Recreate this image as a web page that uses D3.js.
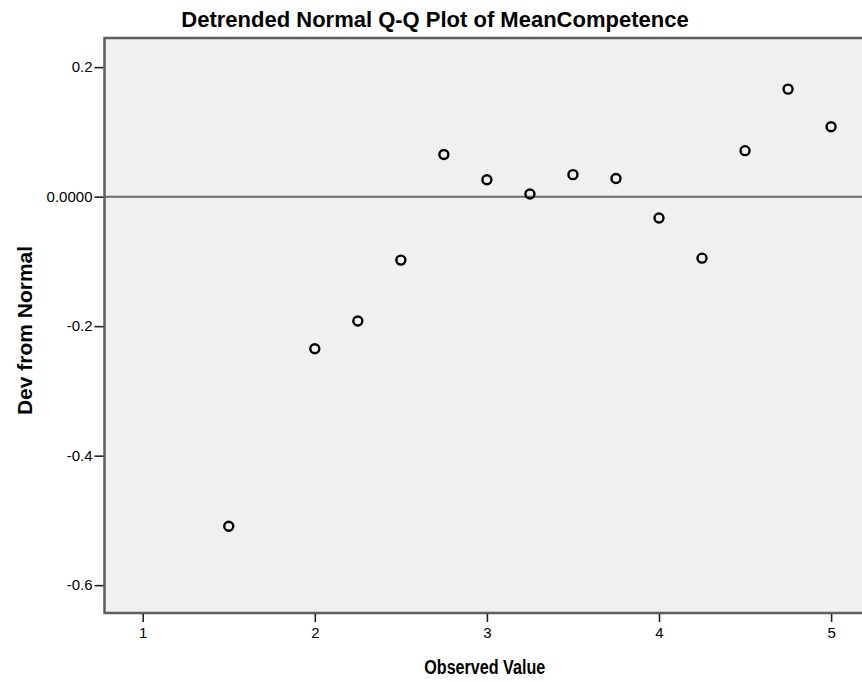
<!DOCTYPE html>
<html>
<head>
<meta charset="utf-8">
<script src="https://cdn.jsdelivr.net/npm/d3@7"></script>
<style>
  body { margin: 0; background: #fff; }
  svg text { font-family: "Liberation Sans", Arial, sans-serif; fill: #000; }
</style>
</head>
<body>
<svg id="chart" width="862" height="682"></svg>
<script>
const observed = [1.5, 2.0, 2.25, 2.5, 2.75, 3.0, 3.25, 3.5, 3.75, 4.0, 4.25, 4.5, 4.75, 5.0];
const deviation = [-0.509, -0.235, -0.192, -0.098, 0.065, 0.026, 0.004, 0.034, 0.028, -0.033, -0.095, 0.071, 0.166, 0.108];
const xTicks = [1, 2, 3, 4, 5];
const yTicks = [0.2, 0, -0.2, -0.4, -0.6];
const yTickLabels = ["0.2", "0.0000", "-0.2", "-0.4", "-0.6"];

const plot = {left: 104.5, top: 38, right: 865, bottom: 613};

const x = d3.scaleLinear([0.778, 5.197], [plot.left, plot.right]);
const y = d3.scaleLinear([-0.643, 0.245], [plot.bottom, plot.top]);

const svg = d3.select("#chart");

// plot background
svg.append("rect")
  .attr("x", plot.left)
  .attr("y", plot.top)
  .attr("width", plot.right - plot.left)
  .attr("height", plot.bottom - plot.top)
  .attr("fill", "#f0f0f0");

// reference line at zero
svg.append("line")
  .attr("x1", plot.left)
  .attr("x2", plot.right)
  .attr("y1", y(0))
  .attr("y2", y(0))
  .attr("stroke", "#6a6a6a")
  .attr("stroke-width", 2);

// points
svg.append("g")
  .selectAll("circle")
  .data(observed)
  .join("circle")
    .attr("cx", d => x(d))
    .attr("cy", (d, i) => y(deviation[i]))
    .attr("r", 4.5)
    .attr("fill", "none")
    .attr("stroke", "#000")
    .attr("stroke-width", 2.4);

// frame
svg.append("rect")
  .attr("x", plot.left)
  .attr("y", plot.top)
  .attr("width", plot.right - plot.left)
  .attr("height", plot.bottom - plot.top)
  .attr("fill", "none")
  .attr("stroke", "#5e5e5e")
  .attr("stroke-width", 2.5);

// axes
const yAxis = g => g
  .attr("transform", `translate(${plot.left - 1},0)`)
  .call(d3.axisLeft(y)
    .tickValues(yTicks)
    .tickSize(9)
    .tickPadding(2)
    .tickFormat((d, i) => yTickLabels[i]));

const xAxis = g => g
  .attr("transform", `translate(0,${plot.bottom + 1})`)
  .call(d3.axisBottom(x)
    .tickValues(xTicks)
    .tickSize(8)
    .tickPadding(5)
    .tickFormat(d3.format("d")));

[svg.append("g").call(yAxis), svg.append("g").call(xAxis)].forEach(g => {
  g.select(".domain").remove();
  g.selectAll(".tick line").attr("stroke", "#222").attr("stroke-width", 1.6);
  g.selectAll(".tick text")
    .attr("font-size", 15)
    .attr("font-family", "Liberation Sans, Arial, sans-serif")
    .attr("fill", "#000");
});

// titles
svg.append("text")
  .attr("x", 435)
  .attr("y", 27)
  .attr("text-anchor", "middle")
  .attr("font-size", 22)
  .attr("font-weight", "bold")
  .text("Detrended Normal Q-Q Plot of MeanCompetence");

svg.append("text")
  .attr("transform", `translate(32,${(plot.top + plot.bottom) / 2 + 5}) rotate(-90)`)
  .attr("text-anchor", "middle")
  .attr("font-size", 21)
  .attr("font-weight", "bold")
  .text("Dev from Normal");

svg.append("text")
  .attr("x", (plot.left + plot.right) / 2)
  .attr("y", 674)
  .attr("text-anchor", "middle")
  .attr("font-size", 20)
  .attr("font-weight", "bold")
  .style("font-family", "'Liberation Sans Narrow', 'Liberation Sans', Arial, sans-serif")
  .attr("textLength", 121)
  .attr("lengthAdjust", "spacingAndGlyphs")
  .text("Observed Value");
</script>
</body>
</html>
